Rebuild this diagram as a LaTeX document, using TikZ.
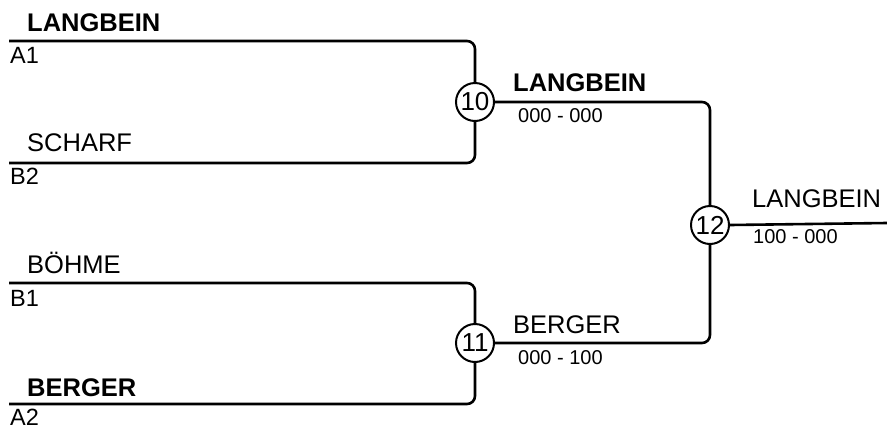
\documentclass[tikz,border=0pt]{standalone}
\usepackage{fontspec}
\setmainfont{Liberation Sans}
\usetikzlibrary{positioning}

\tikzset{
  bracket/.style={line width=2.6pt, rounded corners=8pt},
  match/.style={circle, draw, line width=2pt, fill=white, minimum size=38pt, inner sep=0pt, font=\fontsize{26}{26}\selectfont},
  player/.style={anchor=base west, inner sep=0pt, font=\fontsize{25.5}{25.5}\selectfont},
  winner/.style={player, font=\fontsize{25.5}{25.5}\selectfont\bfseries},
  seed/.style={anchor=base west, inner sep=0pt, font=\fontsize{23.5}{23.5}\selectfont},
  score/.style={anchor=base west, inner sep=0pt, font=\fontsize{20}{20}\selectfont}
}

\begin{document}
\begin{tikzpicture}[x=1pt, y=-1pt]
\useasboundingbox (0,0) rectangle (887,429);

% end points of the first round lines
\coordinate (a1) at (9,41);
\coordinate (b2) at (9,163);
\coordinate (b1) at (9,283);
\coordinate (a2) at (9,404);
\coordinate (fin) at (887,223);

% matches
\node[match] (m10) at (475,102) {10};
\node[match] (m11) at (475,343) {11};
\node[match] (m12) at (710,225) {12};

% bracket lines
\draw[bracket] (a1) -| (m10.north);
\draw[bracket] (b2) -| (m10.south);
\draw[bracket] (b1) -| (m11.north);
\draw[bracket] (a2) -| (m11.south);
\draw[bracket] (m10.east) -| (m12.north);
\draw[bracket] (m11.east) -| (m12.south);
\draw[bracket] (m12.east) -- (fin);

% first round
\node[winner] (pa1) at (27,31) {LANGBEIN};
\node[seed] (sa1) at (10,63) {A1};
\node[player] (pb2) at (27,151) {SCHARF};
\node[seed] (sb2) at (10,184) {B2};
\node[player] (pb1) at (27,273) {BÖHME};
\node[seed] (sb1) at (10,306) {B1};
\node[winner] (pa2) at (27,396) {BERGER};
\node[seed] (sa2) at (10,425.5) {A2};

% second round
\node[winner] (w10) at (513,91) {LANGBEIN};
\node[score] (r10) at (518,122) {000 - 000};
\node[player] (w11) at (513,333) {BERGER};
\node[score] (r11) at (518,364) {000 - 100};

% final
\node[player] (w12) at (752,207) {LANGBEIN};
\node[score] (r12) at (753,243) {100 - 000};
\end{tikzpicture}
\end{document}
